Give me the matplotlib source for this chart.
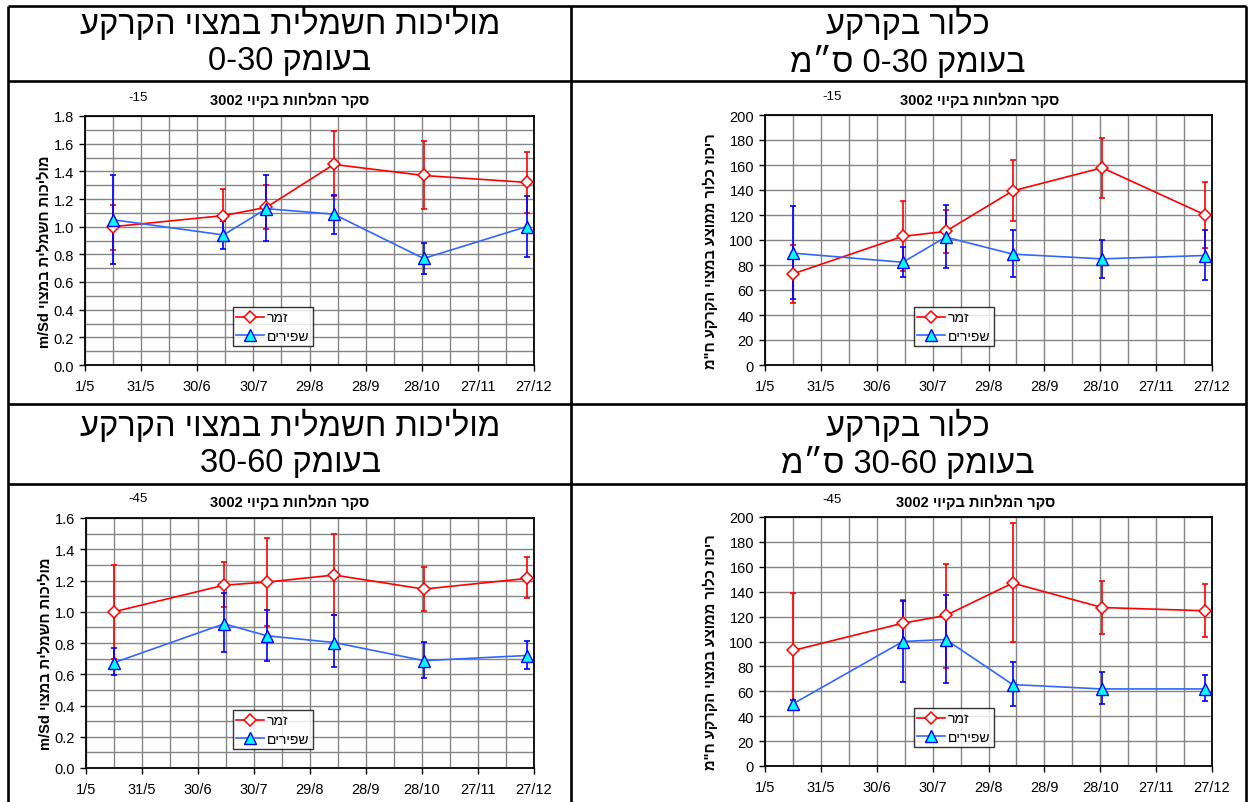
import re
import numpy as np
import pandas as pd
import matplotlib
matplotlib.use("Agg")
import matplotlib.pyplot as plt
import matplotlib.dates as mdates
from matplotlib.lines import Line2D
from matplotlib.ticker import MultipleLocator, FuncFormatter

plt.rcParams['font.family'] = ['Liberation Sans', 'DejaVu Sans']

# ---- data ----
dates = ['2003-05-16', '2003-07-14', '2003-08-06', '2003-09-11', '2003-10-29', '2003-12-23']

# EC 0-30
ec1_zamar = [1.00, 1.08, 1.14, 1.45, 1.37, 1.32]
ec1_zamar_lo = [0.83, 0.90, 0.98, 1.22, 1.13, 1.10]
ec1_zamar_hi = [1.16, 1.27, 1.30, 1.69, 1.62, 1.54]
ec1_shfirim = [1.05, 0.94, 1.13, 1.09, 0.77, 1.00]
ec1_shfirim_lo = [0.73, 0.84, 0.90, 0.95, 0.66, 0.78]
ec1_shfirim_hi = [1.37, 1.04, 1.37, 1.23, 0.88, 1.22]

# Cl 0-30
cl1_zamar = [72.9, 102.9, 106.9, 139.3, 157.8, 120.3]
cl1_zamar_lo = [49.6, 75.0, 89.5, 115.5, 133.9, 94.0]
cl1_zamar_hi = [96.2, 131.0, 124.3, 163.7, 181.9, 146.5]
cl1_shfirim = [89.5, 82.2, 102.3, 88.7, 84.9, 87.6]
cl1_shfirim_lo = [52.5, 70.2, 77.4, 70.2, 69.6, 68.0]
cl1_shfirim_hi = [127.2, 94.3, 128.3, 108.0, 100.0, 108.0]

# EC 30-60
ec2_zamar = [1.00, 1.17, 1.19, 1.235, 1.145, 1.213]
ec2_zamar_lo = [0.70, 1.03, 0.906, 0.98, 1.003, 1.091]
ec2_zamar_hi = [1.30, 1.321, 1.475, 1.497, 1.284, 1.349]
ec2_shfirim = [0.674, 0.923, 0.846, 0.803, 0.687, 0.72]
ec2_shfirim_lo = [0.595, 0.745, 0.685, 0.646, 0.573, 0.631]
ec2_shfirim_hi = [0.765, 1.117, 1.014, 0.977, 0.808, 0.81]

# Cl 30-60
cl2_zamar = [92.8, 114.7, 120.9, 146.9, 127.3, 124.7]
cl2_zamar_lo = [47.0, 96.8, 78.8, 99.2, 106.2, 104.0]
cl2_zamar_hi = [138.9, 133.0, 162.5, 195.2, 148.5, 145.8]
cl2_shfirim = [49.9, 100.0, 101.6, 65.4, 61.9, 61.9]
cl2_shfirim_lo = [47.0, 67.8, 66.5, 48.0, 49.6, 52.0]
cl2_shfirim_hi = [53.0, 132.7, 137.5, 83.6, 75.6, 73.2]

box_titles = ['מוליכות חשמלית במצוי הקרקע\nבעומק 0-30',
              'כלור בקרקע\nבעומק 0-30 ס״מ',
              'מוליכות חשמלית במצוי הקרקע\nבעומק 30-60',
              'כלור בקרקע\nבעומק 30-60 ס״מ']
chart_title = 'סקר המלחות בקיוי 3002'
depth_tags = ['-15', '-15', '-45', '-45']
ylab_ec = 'מוליכות חשמלית במצוי m/Sd'
ylab_cl = 'ריכוז כלור ממוצע במצוי הקרקע ח"מ'
series_names = ['זמר', 'שפירים']


def rtl(s):
    # matplotlib has no bidi: flip the line, keep latin/number runs LTR
    out = []
    for line in s.split('\n'):
        r = line[::-1]
        out.append(re.sub(r'[0-9A-Za-z./\-]+', lambda m: m.group(0)[::-1], r))
    return '\n'.join(out)


W, H = 1250, 803
fig = plt.figure(figsize=(W / 100, H / 100), dpi=100)
fig.patch.set_facecolor('white')


def px_axes(l, r, t, b):
    return fig.add_axes([l / W, 1 - b / H, (r - l) / W, (b - t) / H])


# table frame
tl = dict(color='black', lw=1.9, transform=fig.transFigure, solid_capstyle='butt')
for xx in [8, 571, 1246]:
    fig.add_artist(Line2D([xx / W, xx / W], [1 - 7 / H, 0], **tl))
for yy in [7, 82, 405, 485]:
    fig.add_artist(Line2D([8 / W, 1246 / W], [1 - yy / H, 1 - yy / H], **tl))

title_pos = [(290, 24, 62), (908, 24, 62), (290, 426, 464), (908, 426, 464)]
for t, (cx, y1, y2) in zip(box_titles, title_pos):
    l1, l2 = t.split('\n')
    fig.text(cx / W, 1 - y1 / H, rtl(l1), ha='center', va='center', fontsize=23.5)
    fig.text(cx / W, 1 - y2 / H, rtl(l2), ha='center', va='center', fontsize=23.5)

x = pd.to_datetime(dates)
x0 = pd.Timestamp('2003-05-01')
x1 = pd.Timestamp('2003-12-27')

panels = [
    dict(box=(85, 534, 117, 366), ylim=(0, 1.8), major=0.2, minor=0.1, fmt='{:.1f}', ylab=ylab_ec,
         z=(ec1_zamar, ec1_zamar_lo, ec1_zamar_hi), s=(ec1_shfirim, ec1_shfirim_lo, ec1_shfirim_hi),
         tx=290, ty=100, dx=138, lx=-0.075, leg=(233, 347)),
    dict(box=(765, 1212, 116, 366), ylim=(0, 200), major=20, minor=None, fmt='{:.0f}', ylab=ylab_cl,
         z=(cl1_zamar, cl1_zamar_lo, cl1_zamar_hi), s=(cl1_shfirim, cl1_shfirim_lo, cl1_shfirim_hi),
         tx=980, ty=100, dx=832, lx=-0.105, leg=(914, 347)),
    dict(box=(86, 534, 519, 769), ylim=(0, 1.6), major=0.2, minor=0.1, fmt='{:.1f}', ylab=ylab_ec,
         z=(ec2_zamar, ec2_zamar_lo, ec2_zamar_hi), s=(ec2_shfirim, ec2_shfirim_lo, ec2_shfirim_hi),
         tx=290, ty=502, dx=138, lx=-0.075, leg=(233, 750)),
    dict(box=(765, 1212, 518, 767), ylim=(0, 200), major=20, minor=None, fmt='{:.0f}', ylab=ylab_cl,
         z=(cl2_zamar, cl2_zamar_lo, cl2_zamar_hi), s=(cl2_shfirim, cl2_shfirim_lo, cl2_shfirim_hi),
         tx=976, ty=502, dx=832, lx=-0.105, leg=(914, 748)),
]

for p, tag in zip(panels, depth_tags):
    l, r, t, b = p['box']
    ax = px_axes(l, r, t, b)
    ax.set_xlim(x0, x1)
    ax.set_ylim(*p['ylim'])

    major_days = pd.date_range(x0, x1, freq='30D')
    minor_days = pd.date_range(x0, x1, freq='15D')
    ax.set_xticks(major_days)
    ax.set_xticks(minor_days, minor=True)
    ax.xaxis.set_major_formatter(FuncFormatter(
        lambda v, pos: '{}/{}'.format(mdates.num2date(v).day, mdates.num2date(v).month)))
    ax.yaxis.set_major_locator(MultipleLocator(p['major']))
    if p['minor']:
        ax.yaxis.set_minor_locator(MultipleLocator(p['minor']))
    ax.yaxis.set_major_formatter(FuncFormatter(lambda v, pos, f=p['fmt']: f.format(v)))

    ax.grid(True, which='both', color='#858585', lw=1.0)
    ax.set_axisbelow(True)
    ax.tick_params(which='major', direction='out', length=4, width=1, labelsize=10.5, pad=4)
    ax.tick_params(axis='x', which='major', pad=6)
    ax.tick_params(which='minor', length=0)
    for sp in ax.spines.values():
        sp.set_linewidth(1.3)
        sp.set_color('black')

    zv, zlo, zhi = [np.array(a) for a in p['z']]
    sv, slo, shi = [np.array(a) for a in p['s']]
    ax.errorbar(x, zv, yerr=[zv - zlo, zhi - zv], fmt='none', ecolor='#ff0000',
                elinewidth=1.2, capsize=2.5, capthick=1.2, zorder=3)
    ax.errorbar(x, sv, yerr=[sv - slo, shi - sv], fmt='none', ecolor='#0000ff',
                elinewidth=1.2, capsize=2.5, capthick=1.2, zorder=3)
    hz, = ax.plot(x, zv, color='#ff0000', lw=1.2, marker='D', ms=6,
                  mfc='white', mec='#ff0000', mew=1.1, zorder=4)
    hs, = ax.plot(x, sv, color='#3366ff', lw=1.2, marker='^', ms=8.5,
                  mfc='#00ffff', mec='#0000ff', mew=1.0, zorder=5)

    ty = 1 + (t - p['ty']) / (b - t)
    ax.text((p['tx'] - l) / (r - l), ty, rtl(chart_title), transform=ax.transAxes,
            ha='center', va='center', fontsize=10.5, fontweight='bold')
    ax.text((p['dx'] - l) / (r - l), ty + 0.01, tag, transform=ax.transAxes,
            ha='center', va='center', fontsize=9.5)

    ax.set_ylabel(rtl(p['ylab']), fontsize=10.5, fontweight='bold')
    ax.yaxis.set_label_coords(p['lx'], 0.46)

    lx0, ly0 = p['leg']
    leg = ax.legend([hz, hs], [rtl(n) for n in series_names], loc='lower left',
                    bbox_to_anchor=((lx0 - l) / (r - l), (b - ly0) / (b - t)),
                    borderaxespad=0, frameon=True, fancybox=False, fontsize=10,
                    handlelength=2.0, handletextpad=0.2, borderpad=0.25, labelspacing=0.3)
    leg.get_frame().set_edgecolor('black')
    leg.get_frame().set_linewidth(1.0)

fig.savefig('out.png', dpi=100)
